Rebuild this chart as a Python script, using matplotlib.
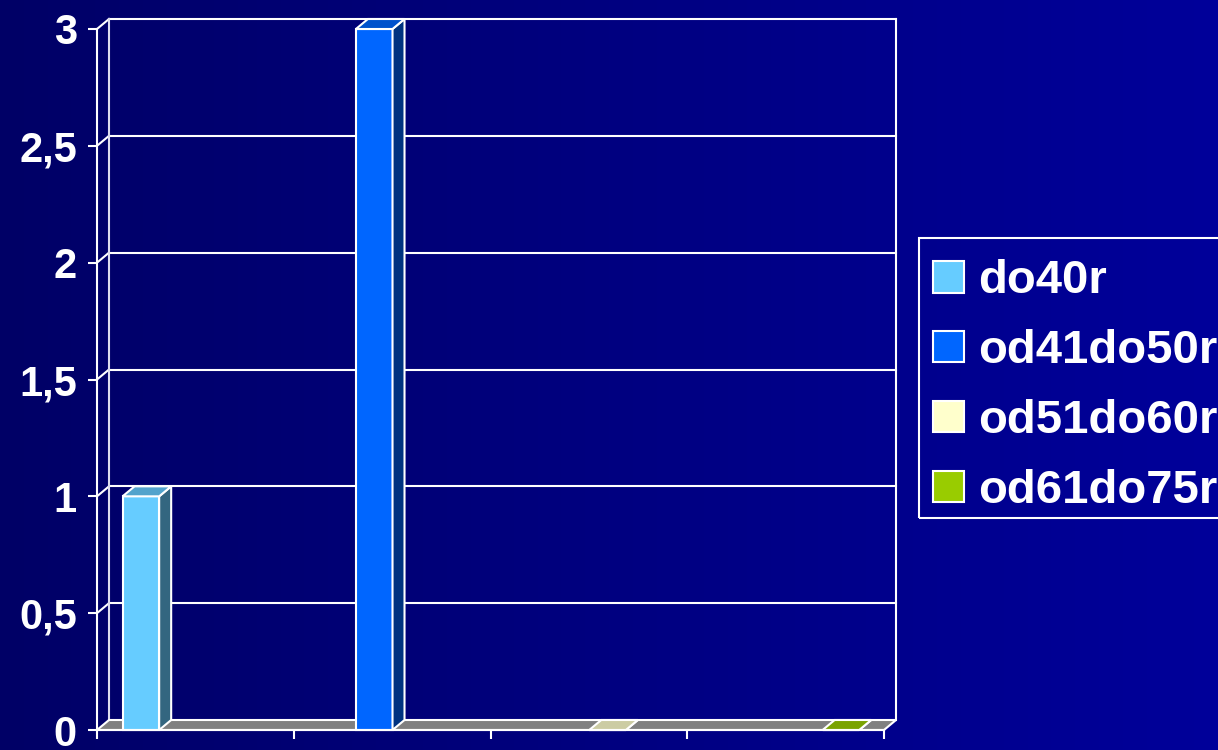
import numpy as np
import matplotlib
matplotlib.use("Agg")
import matplotlib.pyplot as plt
from matplotlib.patches import Polygon, Patch, Rectangle
from matplotlib.ticker import FuncFormatter
from matplotlib.colors import to_rgb, LinearSegmentedColormap

# ---- data ----
series = ["do40r", "od41do50r", "od51do60r", "od61do75r"]
values = [
    [1, None, None, None],
    [None, 3, None, None],
    [None, None, 0, None],
    [None, None, None, 0],
]
colors = ["#66CCFF", "#0066FF", "#FFFFCC", "#99CC00"]
yticks = [0, 0.5, 1, 1.5, 2, 2.5, 3]

# ---- style ----
W, H, DPI = 1218, 750, 100
FONT = "Liberation Sans"
LINE = "white"
LW = 1.5
DEPTH_X_PX = 12   # depth of the fake 3d box, in pixels
DEPTH_Y_PX = 10
GAP = 0.13        # space before the first bar in a group
BAR_W = 0.186

fig = plt.figure(figsize=(W / DPI, H / DPI), dpi=DPI)

# horizontal gradient background
bg = fig.add_axes([0, 0, 1, 1], zorder=-10)
cmap = LinearSegmentedColormap.from_list("bg", ["#000066", "#00009A"])
bg.imshow(np.linspace(0, 1, 256)[None, :], aspect="auto", cmap=cmap,
          extent=[0, 1, 0, 1])
bg.axis("off")

left, right, bottom, top = 97, 884, 730, 29
ax = fig.add_axes([left / W, 1 - bottom / H, (right - left) / W, (bottom - top) / H])
ax.set_facecolor("none")
ncat = len(values[0])
ax.set_xlim(0, ncat)
ax.set_ylim(0, 3)

# depth offset in data units
DX = DEPTH_X_PX / ((right - left) / ncat)
DY = DEPTH_Y_PX / ((bottom - top) / 3)

# floor
floor = Polygon([(0, 0), (ncat, 0), (ncat + DX, DY), (DX, DY)], closed=True,
                facecolor="#808080", edgecolor=LINE, lw=LW, clip_on=False, zorder=1)
ax.add_patch(floor)

# back wall grid + side wall connectors
for y in yticks[1:]:
    ax.plot([DX, ncat + DX], [y + DY, y + DY], color=LINE, lw=LW, clip_on=False, zorder=0.5)
    ax.plot([0, DX], [y, y + DY], color=LINE, lw=LW, clip_on=False, zorder=0.5)
ax.plot([DX, DX], [DY, 3 + DY], color="#DDDDEE", lw=LW, clip_on=False, zorder=0.5)
ax.plot([ncat + DX, ncat + DX], [DY, 3 + DY], color=LINE, lw=LW, clip_on=False, zorder=0.5)


def shade(c, f):
    return tuple(v * f for v in to_rgb(c))


# bars: front face via ax.bar, side and top as polygons
for s, (name, vals, c) in enumerate(zip(series, values, colors)):
    for i, v in enumerate(vals):
        if v is None:
            continue
        x = i + GAP + s * BAR_W
        ax.bar(x, v, BAR_W, align="edge", color=c, edgecolor=LINE, lw=LW,
               zorder=3, clip_on=False)
        side = [(x + BAR_W, 0), (x + BAR_W + DX, DY), (x + BAR_W + DX, v + DY), (x + BAR_W, v)]
        topf = [(x, v), (x + BAR_W, v), (x + BAR_W + DX, v + DY), (x + DX, v + DY)]
        ax.add_patch(Polygon(side, closed=True, facecolor=shade(c, 0.5),
                             edgecolor=LINE, lw=LW, clip_on=False, zorder=3))
        ax.add_patch(Polygon(topf, closed=True, facecolor=shade(c, 0.8),
                             edgecolor=LINE, lw=LW, clip_on=False, zorder=3))

# axes
for sp in ["top", "right"]:
    ax.spines[sp].set_visible(False)
for sp in ["left", "bottom"]:
    ax.spines[sp].set_color(LINE)
    ax.spines[sp].set_linewidth(LW)
    ax.spines[sp].set_zorder(4)
ax.set_yticks(yticks)
ax.yaxis.set_major_formatter(FuncFormatter(lambda v, p: f"{v:g}".replace(".", ",")))
ax.set_xticks(range(ncat + 1))
ax.set_xticklabels([])
ax.tick_params(axis="both", colors=LINE, width=LW, length=6.5, direction="out")
ax.tick_params(axis="y", pad=8, labelsize=30)
for lab in ax.get_yticklabels():
    lab.set_fontfamily(FONT)
    lab.set_fontweight("bold")

# legend (frame drawn separately so the entries sit a little lower inside it)
LEG_X, LEG_TOP, LEG_BOT = 919, 238, 518
handles = [Patch(facecolor=c, edgecolor=LINE, lw=LW) for c in colors]
leg = fig.legend(handles, series, loc="upper left",
                 bbox_to_anchor=(LEG_X / W, 1 - (LEG_TOP + 7) / H), borderaxespad=0,
                 frameon=False,
                 prop={"family": FONT, "weight": "bold", "size": 34},
                 handlelength=0.66, handleheight=0.66, handletextpad=0.3,
                 borderpad=0.3, labelspacing=0.55)
for t in leg.get_texts():
    t.set_color("white")
fig.patches.append(Rectangle((LEG_X / W, 1 - LEG_BOT / H), 0.5, (LEG_BOT - LEG_TOP) / H,
                             transform=fig.transFigure, fill=False,
                             edgecolor=LINE, lw=LW))

fig.savefig("out.png", dpi=DPI)
